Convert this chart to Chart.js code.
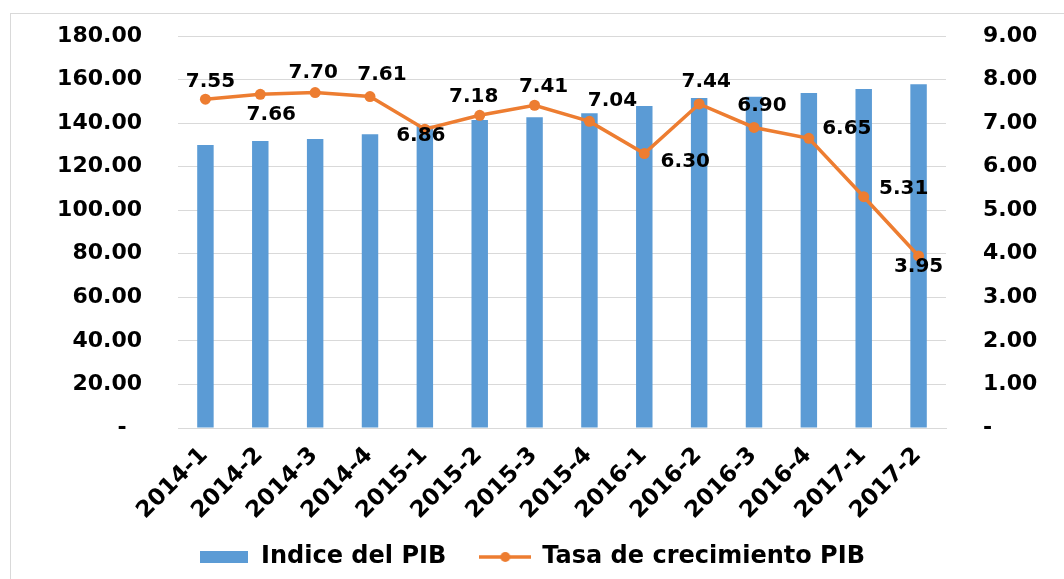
<!DOCTYPE html>
<html>
<head>
<meta charset="utf-8">
<script src="https://cdn.jsdelivr.net/npm/chart.js@4.4.1/dist/chart.umd.min.js"></script>
<style>
  body { margin: 0; background: #fff; }
  #wrap { width: 1064px; height: 579px; position: relative; }
</style>
</head>
<body>
<div id="wrap"><canvas id="pib-chart"></canvas></div>
<script>
const periods = ["2014-1", "2014-2", "2014-3", "2014-4", "2015-1", "2015-2", "2015-3",
                 "2015-4", "2016-1", "2016-2", "2016-3", "2016-4", "2017-1", "2017-2"];
const indicePib = [129.9, 131.8, 132.7, 134.9, 138.8, 141.4, 142.7,
                   144.5, 147.9, 151.5, 152.1, 153.8, 155.7, 157.8];
const tasaCrecimiento = [7.55, 7.66, 7.70, 7.61, 6.86, 7.18, 7.41,
                         7.04, 6.30, 7.44, 6.90, 6.65, 5.31, 3.95];
const leftTicks = [0, 20, 40, 60, 80, 100, 120, 140, 160, 180];
const rightTicks = [0, 1, 2, 3, 4, 5, 6, 7, 8, 9];

// desplazamiento de cada etiqueta respecto a su punto (px)
const labelShift = [[5, -17], [11, 20], [-2, -20], [12, -22], [-4, 7], [-6, -18], [9, -18],
                    [23, -21], [41, 8], [7, -22], [8, -22], [38, -10], [40, -8], [0, 11]];

const BLUE = "#5b9bd5";
const ORANGE = "#ed7d31";
const FONT = "'DejaVu Sans', Verdana, sans-serif";

// iconos de la leyenda
function legendIcon(kind) {
    const c = document.createElement("canvas");
    const ctx = c.getContext("2d");
    if (kind === "bar") {
        c.width = 48; c.height = 12;
        ctx.fillStyle = BLUE;
        ctx.fillRect(0, 0, 48, 12);
    } else {
        c.width = 52; c.height = 12;
        ctx.strokeStyle = ORANGE;
        ctx.lineWidth = 3.5;
        ctx.beginPath(); ctx.moveTo(0, 6); ctx.lineTo(52, 6); ctx.stroke();
        ctx.fillStyle = ORANGE;
        ctx.beginPath(); ctx.arc(26, 6, 5, 0, Math.PI * 2); ctx.fill();
    }
    return c;
}
const icons = [legendIcon("bar"), legendIcon("line")];

// fija el ancho del eje y quita el relleno vertical que mete el padding de los ticks
function fixAxis(width) {
    return (scale) => {
        scale.width = width;
        scale.paddingTop = 12;
        scale.paddingBottom = 12;
    };
}

const frame = {
    id: "frame",
    beforeDraw(chart) {
        const ctx = chart.ctx;
        ctx.save();
        ctx.strokeStyle = "#d9d9d9";
        ctx.lineWidth = 1;
        ctx.strokeRect(10.5, 13.5, 1100, 700);
        ctx.restore();
    },
};

const lineLabels = {
    id: "lineLabels",
    afterDatasetsDraw(chart) {
        const meta = chart.getDatasetMeta(1);
        const ctx = chart.ctx;
        ctx.save();
        ctx.font = "bold 20px " + FONT;
        ctx.fillStyle = "#000";
        ctx.textAlign = "center";
        ctx.textBaseline = "middle";
        meta.data.forEach((pt, i) => {
            const [dx, dy] = labelShift[i];
            ctx.fillText(tasaCrecimiento[i].toFixed(2), pt.x + dx, pt.y + dy);
        });
        ctx.restore();
    },
};

const ctxPib = document.querySelector("#pib-chart").getContext("2d");
const pibChart = new Chart(ctxPib, {
    data: {
        labels: periods,
        datasets: [
            {
                type: "bar",
                label: "Indice del PIB",
                data: indicePib,
                backgroundColor: BLUE,
                yAxisID: "y",
                barPercentage: 0.6,
                categoryPercentage: 0.5,
                order: 1,
            },
            {
                type: "line",
                label: "Tasa de crecimiento PIB",
                data: tasaCrecimiento,
                borderColor: ORANGE,
                backgroundColor: ORANGE,
                borderWidth: 3.5,
                pointRadius: 5.5,
                pointBorderWidth: 0,
                tension: 0,
                yAxisID: "y1",
                order: 0,
            },
        ],
    },
    options: {
        responsive: true,
        maintainAspectRatio: false,
        animation: false,
        layout: { padding: { left: 10, right: 10, top: 36, bottom: 0 } },
        scales: {
            x: {
                grid: { display: false },
                border: { color: "#d9d9d9" },
                ticks: {
                    color: "#000",
                    font: { family: FONT, size: 23, weight: "bold" },
                    minRotation: 45,
                    maxRotation: 45,
                    autoSkip: false,
                    padding: 6,
                    labelOffset: -1,
                },
                afterFit: (scale) => { scale.height = 108; },
            },
            y: {
                position: "left",
                min: 0,
                max: 180,
                afterBuildTicks: (scale) => { scale.ticks = leftTicks.map((v) => ({ value: v })); },
                grid: { color: "#d9d9d9", drawTicks: false },
                border: { display: false },
                ticks: {
                    color: "#000",
                    padding: 36,
                    font: { family: FONT, size: 22, weight: "bold" },
                    callback: (v) => (v === 0 ? "-  " : v.toFixed(2)),
                },
                afterFit: fixAxis(168),
            },
            y1: {
                position: "right",
                min: 0,
                max: 9,
                afterBuildTicks: (scale) => { scale.ticks = rightTicks.map((v) => ({ value: v })); },
                grid: { display: false, drawTicks: false },
                border: { display: false },
                ticks: {
                    color: "#000",
                    padding: 37,
                    font: { family: FONT, size: 22, weight: "bold" },
                    callback: (v) => (v === 0 ? "-" : v.toFixed(2)),
                },
                afterFit: fixAxis(108),
            },
        },
        plugins: {
            tooltip: { enabled: false },
            legend: {
                position: "bottom",
                labels: {
                    color: "#000",
                    font: { family: FONT, size: 24, weight: "bold" },
                    usePointStyle: true,
                    pointStyleWidth: 50,
                    padding: 9,
                    sort: (a, b) => a.datasetIndex - b.datasetIndex,
                    generateLabels: (chart) =>
                        Chart.defaults.plugins.legend.labels.generateLabels(chart).map((item) => ({
                            ...item,
                            // espacio extra entre las dos entradas
                            text: item.datasetIndex === 0 ? item.text + "   " : item.text,
                            pointStyle: icons[item.datasetIndex],
                        })),
                },
            },
        },
    },
    plugins: [frame, lineLabels],
});
</script>
</body>
</html>
